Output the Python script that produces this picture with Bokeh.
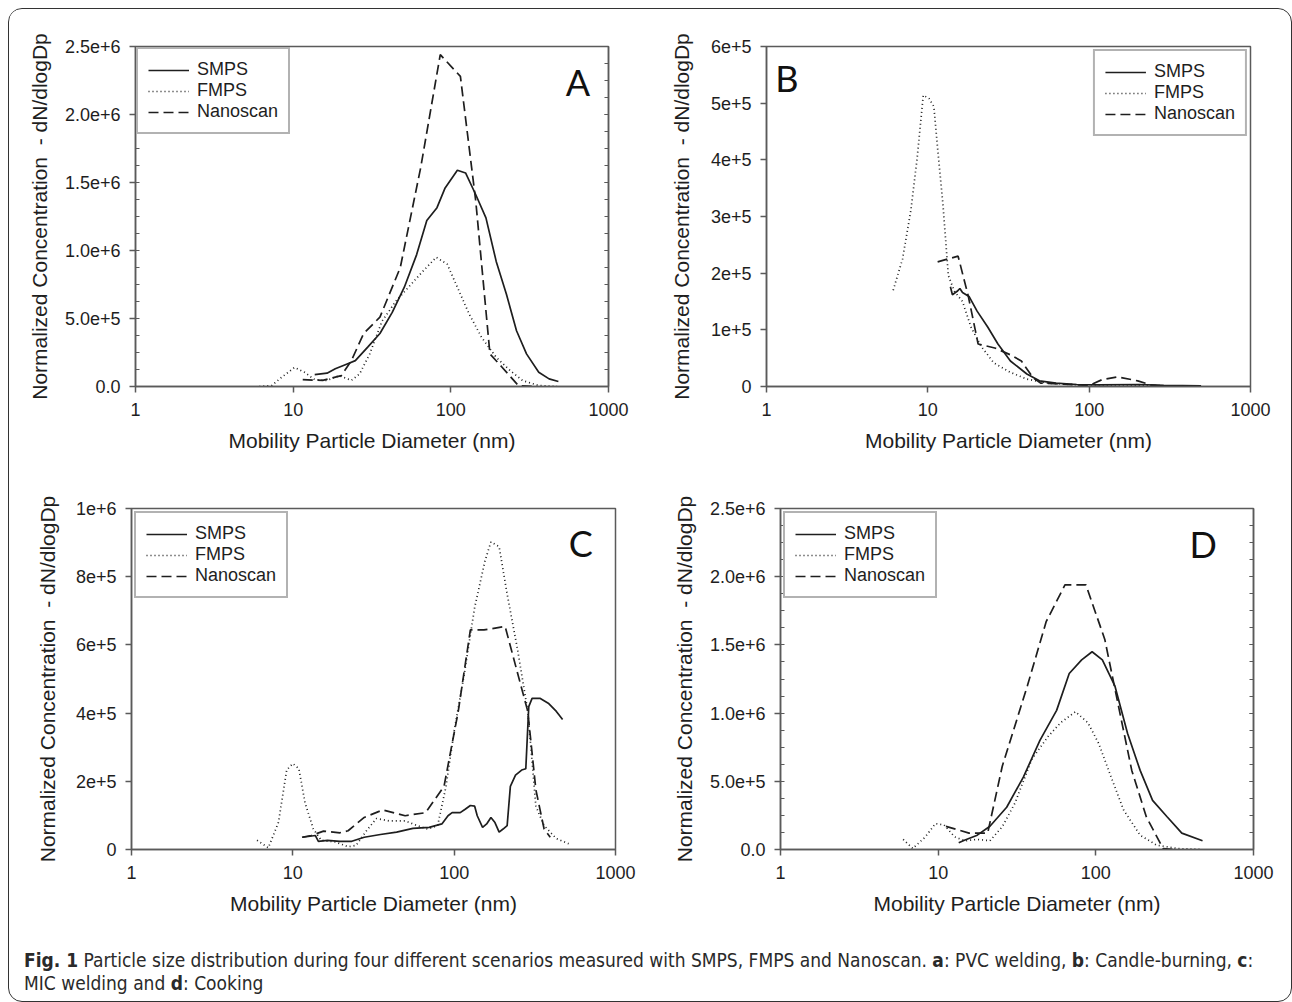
from bokeh.plotting import figure
from bokeh.models import (Legend, LegendItem, FixedTicker, LinearAxis, Label, Div,
                          Range1d, SingleIntervalTicker)
from bokeh.layouts import column, row
from bokeh.embed import file_html
from bokeh.resources import INLINE

# ---------------- data ----------------
X_TICKS = [1, 10, 100, 1000]
X_TICK_LABELS = ["1", "10", "100", "1000"]
X_TITLE = "Mobility Particle Diameter (nm)"
Y_TITLE = "Normalized Concentration\u00a0\u00a0- dN/dlogDp"
SERIES = ["SMPS", "FMPS", "Nanoscan"]
LETTERS = ["A", "B", "C", "D"]

# Panel A (PVC welding)
A_Y_MAX = 2.5e6
A_Y_TICKS = [0, 5e5, 1e6, 1.5e6, 2e6, 2.5e6]
A_Y_LABELS = ["0.0", "5.0e+5", "1.0e+6", "1.5e+6", "2.0e+6", "2.5e+6"]
A_SMPS_D = [13.7, 16.4, 18.5, 22, 24.8, 29.7, 35.5, 42.5, 50.7, 60.7, 70.4, 81.7, 92, 110,
            124, 144, 167, 194, 225, 261, 302, 361, 420, 481]
A_SMPS_V = [0.088e6, 0.098e6, 0.13e6, 0.166e6, 0.19e6, 0.29e6, 0.39e6, 0.545e6, 0.73e6, 0.97e6,
            1.22e6, 1.315e6, 1.46e6, 1.59e6, 1.57e6, 1.41e6, 1.24e6, 0.92e6, 0.68e6, 0.41e6,
            0.24e6, 0.105e6, 0.056e6, 0.037e6]
A_FMPS_D = [6.1, 7.3, 8.5, 10.2, 11.8, 13.7, 16.4, 19.6, 23.4, 26.4, 30.6, 36.6, 45, 53.9, 64.4,
            80.7, 94.8, 110, 131, 157, 194, 238, 285, 361, 472]
A_FMPS_V = [0, 0.007e6, 0.07e6, 0.14e6, 0.105e6, 0.05e6, 0.045e6, 0.08e6, 0.045e6, 0.093e6,
            0.24e6, 0.48e6, 0.63e6, 0.73e6, 0.83e6, 0.95e6, 0.9e6, 0.73e6, 0.53e6, 0.36e6,
            0.215e6, 0.117e6, 0.044e6, 0.007e6, 0]
A_NANO_D = [11.5, 15.4, 20.2, 23.4, 28, 35.5, 47.8, 64.4, 85.7, 115, 144, 177, 212, 268, 340]
A_NANO_V = [0.05e6, 0.045e6, 0.08e6, 0.19e6, 0.39e6, 0.51e6, 0.875e6, 1.61e6, 2.44e6, 2.28e6,
            1.36e6, 0.24e6, 0.14e6, 0.007e6, 0]

# Panel B (Candle-burning)
B_Y_MAX = 6e5
B_Y_TICKS = [0, 1e5, 2e5, 3e5, 4e5, 5e5, 6e5]
B_Y_LABELS = ["0", "1e+5", "2e+5", "3e+5", "4e+5", "5e+5", "6e+5"]
B_SMPS_D = [13.8, 14.2, 15.2, 15.8, 16.4, 18, 20.2, 23.5, 27.2, 32.5, 41.1, 49.2, 62.3, 83.7,
            113, 203, 290, 494]
B_SMPS_V = [1.76e5, 1.62e5, 1.68e5, 1.73e5, 1.66e5, 1.59e5, 1.33e5, 1.05e5, 0.75e5, 0.45e5,
            0.22e5, 0.10e5, 0.06e5, 0.035e5, 0.03e5, 0.035e5, 0.02e5, 0.01e5]
B_FMPS_D = [6.1, 6.97, 7.85, 8.58, 9.37, 10.2, 10.9, 11.5, 12.4, 13.4, 14.6, 16.4, 18.5, 21.5,
            25.6, 32.5, 41.1, 55.3, 83.7, 151, 229, 368, 494]
B_FMPS_V = [1.7e5, 2.25e5, 3.11e5, 4.02e5, 5.14e5, 5.08e5, 4.94e5, 4.2e5, 3.22e5, 1.96e5,
            1.68e5, 1.5e5, 1.05e5, 0.7e5, 0.42e5, 0.25e5, 0.13e5, 0.06e5, 0.03e5, 0.03e5,
            0.02e5, 0.005e5, 0]
B_NANO_D = [11.5, 15.4, 17.8, 20.5, 26, 33, 38, 45, 50, 60, 100, 120, 150, 200, 240, 300, 360]
B_NANO_V = [2.2e5, 2.3e5, 1.6e5, 0.75e5, 0.68e5, 0.55e5, 0.45e5, 0.15e5, 0.06e5, 0.05e5,
            0.02e5, 0.12e5, 0.17e5, 0.1e5, 0.03e5, 0, 0]

# Panel C (MIC welding)
C_Y_MAX = 1e6
C_Y_TICKS = [0, 2e5, 4e5, 6e5, 8e5, 1e6]
C_Y_LABELS = ["0", "2e+5", "4e+5", "6e+5", "8e+5", "1e+6"]
C_SMPS_D = [11.5, 13.8, 14.4, 16.4, 19.6, 23.2, 27.7, 34.9, 44, 55.5, 70, 83.9, 91.6, 97.1,
            109, 117, 126, 134, 139, 150, 159, 169, 179, 190, 201, 213, 223, 240, 262, 278,
            290, 304, 342, 383, 430, 470]
C_SMPS_V = [0.36e5, 0.41e5, 0.24e5, 0.27e5, 0.24e5, 0.24e5, 0.36e5, 0.44e5, 0.51e5, 0.62e5,
            0.65e5, 0.75e5, 0.99e5, 1.08e5, 1.08e5, 1.18e5, 1.29e5, 1.27e5, 0.99e5, 0.65e5,
            0.75e5, 0.94e5, 0.79e5, 0.51e5, 0.6e5, 0.7e5, 1.85e5, 2.18e5, 2.33e5, 2.37e5,
            4.19e5, 4.43e5, 4.43e5, 4.29e5, 4.05e5, 3.81e5]
C_FMPS_D = [6.0, 7.05, 8.15, 9.16, 10, 10.9, 11.9, 13.4, 15, 18.4, 22, 24.7, 28.6, 33, 39.4,
            49.7, 59, 68.4, 79, 89, 100, 116, 134, 155, 169, 190, 213, 247, 286, 321, 361,
            430, 512]
C_FMPS_V = [0.27e5, 0.05e5, 0.8e5, 2.33e5, 2.52e5, 2.37e5, 1.37e5, 0.6e5, 0.27e5, 0.22e5,
            0.08e5, 0.12e5, 0.55e5, 0.91e5, 0.84e5, 0.84e5, 0.7e5, 0.6e5, 0.7e5, 1.85e5,
            3.47e5, 5.2e5, 7.1e5, 8.45e5, 9.02e5, 8.88e5, 7.49e5, 5.87e5, 4.05e5, 1.27e5,
            0.7e5, 0.32e5, 0.17e5]
C_NANO_D = [11.4, 13, 15.5, 19.6, 22, 27.7, 36, 49.7, 66.5, 86.5, 106, 126, 153, 207, 240,
            286, 321, 361, 394]
C_NANO_V = [0.36e5, 0.41e5, 0.54e5, 0.49e5, 0.55e5, 0.94e5, 1.16e5, 0.99e5, 1.08e5, 1.85e5,
            4.05e5, 6.44e5, 6.44e5, 6.54e5, 5.4e5, 4.05e5, 1.75e5, 0.6e5, 0.36e5]

# Panel D (Cooking)
D_Y_MAX = 2.5e6
D_Y_TICKS = [0, 5e5, 1e6, 1.5e6, 2e6, 2.5e6]
D_Y_LABELS = ["0.0", "5.0e+5", "1.0e+6", "1.5e+6", "2.0e+6", "2.5e+6"]
D_SMPS_D = [13.5, 14.8, 17.7, 21.3, 27.2, 34.7, 44.2, 56.4, 67.8, 81.3, 94.7, 110, 132, 159,
            191, 229, 283, 351, 475]
D_SMPS_V = [0.05e6, 0.07e6, 0.105e6, 0.17e6, 0.31e6, 0.53e6, 0.80e6, 1.02e6, 1.29e6, 1.39e6,
            1.45e6, 1.39e6, 1.20e6, 0.85e6, 0.58e6, 0.36e6, 0.24e6, 0.12e6, 0.064e6]
D_FMPS_D = [6.0, 6.9, 8.3, 9.6, 10.9, 12.7, 14.8, 17.7, 21.3, 25.5, 30.7, 39.2, 49.9, 59.9,
            74.2, 89, 104, 125, 150, 191, 243, 330, 475]
D_FMPS_V = [0.074e6, 0.007e6, 0.093e6, 0.19e6, 0.18e6, 0.093e6, 0.064e6, 0.074e6, 0.064e6,
            0.167e6, 0.34e6, 0.66e6, 0.83e6, 0.93e6, 1.01e6, 0.93e6, 0.78e6, 0.53e6, 0.29e6,
            0.105e6, 0.032e6, 0.007e6, 0]
D_NANO_D = [11.2, 15.7, 20.6, 25.5, 36.8, 48.4, 63.7, 86.5, 114, 141, 169, 209, 267, 309]
D_NANO_V = [0.17e6, 0.12e6, 0.12e6, 0.61e6, 1.2e6, 1.67e6, 1.94e6, 1.94e6, 1.54e6, 1.02e6,
            0.58e6, 0.24e6, 0.007e6, 0]

CAPTION_HTML = ("<b>Fig. 1</b> Particle size distribution during four different scenarios "
                "measured with SMPS, FMPS and Nanoscan. <b>a</b>: PVC welding, <b>b</b>: "
                "Candle-burning, <b>c</b>:<br>MIC welding and <b>d</b>: Cooking")

# ---------------- styling ----------------
FONT = "Liberation Sans"
INK = "#1e1e1e"
AXIS_C = "#5a5a5a"
DASHES = ["solid", "1 3", "10 5"]


def make_panel(letter, series, y_max, y_ticks, y_labels, y_interval, n_minor, width, height,
               borders, legend_loc, legend_margin, letter_pos, y_label_standoff, right_ticks):
    left, right, top, bottom = borders
    p = figure(width=width, height=height, x_axis_type="log",
               x_range=Range1d(1, 1000), y_range=Range1d(0, y_max),
               output_backend="svg", toolbar_location=None,
               min_border_left=left, min_border_right=right,
               min_border_top=top, min_border_bottom=bottom)
    p.grid.visible = False
    p.outline_line_color = AXIS_C
    p.outline_line_width = 1.5
    p.background_fill_color = "white"
    p.border_fill_color = "white"

    renderers = []
    for (d, v), dash in zip(series, DASHES):
        r = p.line(d, v, line_color=INK, line_width=1.7, line_dash=dash)
        renderers.append(r)

    xa = p.xaxis[0]
    xa.ticker = FixedTicker(ticks=X_TICKS, minor_ticks=[])
    xa.major_label_overrides = {t: s for t, s in zip(X_TICKS, X_TICK_LABELS)}
    xa.axis_label = X_TITLE
    ya = p.yaxis[0]
    ya.ticker = SingleIntervalTicker(interval=y_interval, num_minor_ticks=n_minor)
    ya.major_label_overrides = {float(t): s for t, s in zip(y_ticks, y_labels)}
    ya.axis_label = Y_TITLE
    for ax in (xa, ya):
        ax.axis_line_color = AXIS_C
        ax.axis_line_width = 1.5
        ax.major_tick_line_color = AXIS_C
        ax.major_tick_line_width = 1.5
        ax.minor_tick_line_color = AXIS_C
        ax.major_tick_out = 6
        ax.major_tick_in = 0
        ax.minor_tick_out = 0
        ax.minor_tick_in = 4
        ax.major_label_text_font = FONT
        ax.major_label_text_font_size = "18px"
        ax.major_label_text_color = INK
        ax.axis_label_text_font = FONT
        ax.axis_label_text_font_size = "21px"
        ax.axis_label_text_font_style = "normal"
        ax.axis_label_text_color = INK
    xa.major_label_standoff = 10
    xa.axis_label_standoff = 10
    ya.major_label_standoff = 9
    ya.axis_label_standoff = y_label_standoff

    if right_ticks:
        ra = LinearAxis(ticker=SingleIntervalTicker(interval=y_interval, num_minor_ticks=n_minor),
                        axis_line_color=AXIS_C, axis_line_width=1.5,
                        major_tick_in=4, major_tick_out=0, minor_tick_in=4, minor_tick_out=0,
                        major_tick_line_color=AXIS_C, minor_tick_line_color=AXIS_C,
                        major_label_standoff=0,
                        major_label_overrides={float(t): "" for t in y_ticks})
        p.add_layout(ra, "right")

    legend = Legend(items=[LegendItem(label=s, renderers=[r]) for s, r in zip(SERIES, renderers)],
                    location=legend_loc, margin=legend_margin, padding=10, spacing=0,
                    label_height=20, glyph_height=20, glyph_width=41, label_standoff=8,
                    label_text_font=FONT, label_text_font_size="18px",
                    label_text_color=INK, border_line_color="#666666",
                    border_line_width=2.5, background_fill_alpha=1.0)
    p.add_layout(legend)

    p.add_layout(Label(x=letter_pos[0], y=letter_pos[1], text=letter, text_align="center",
                       text_baseline="middle", text_font="Lato", text_font_size="36px",
                       text_color="#111111"))
    return p


pA = make_panel(LETTERS[0], [(A_SMPS_D, A_SMPS_V), (A_FMPS_D, A_FMPS_V), (A_NANO_D, A_NANO_V)],
                A_Y_MAX, A_Y_TICKS, A_Y_LABELS, 5e5, 4, 640, 470,
                (126, 41, 37, 93), "top_left", 1, (640, 2.24e6), 11, True)
pB = make_panel(LETTERS[1], [(B_SMPS_D, B_SMPS_V), (B_FMPS_D, B_FMPS_V), (B_NANO_D, B_NANO_V)],
                B_Y_MAX, B_Y_TICKS, B_Y_LABELS, 1e5, 0, 632, 470,
                (117, 31, 37, 85), "top_right", 3, (1.34, 5.45e5), 15, False)
pC = make_panel(LETTERS[2], [(C_SMPS_D, C_SMPS_V), (C_FMPS_D, C_FMPS_V), (C_NANO_D, C_NANO_V)],
                C_Y_MAX, C_Y_TICKS, C_Y_LABELS, 2e5, 0, 640, 456,
                (122, 34, 23, 84), "top_left", 3, (610, 9.0e5), 14, False)
pD = make_panel(LETTERS[3], [(D_SMPS_D, D_SMPS_V), (D_FMPS_D, D_FMPS_V), (D_NANO_D, D_NANO_V)],
                D_Y_MAX, D_Y_TICKS, D_Y_LABELS, 5e5, 4, 632, 456,
                (131, 28, 29, 86), "top_left", 3, (480, 2.24e6), 11, True)

caption = Div(text=CAPTION_HTML, width=1272, height=56,
              styles={"font-family": "'Liberation Sans Narrow', 'DejaVu Sans Condensed', "
                                     "'Liberation Sans', sans-serif",
                      "font-size": "19px", "line-height": "23px", "color": "#2a2a2a",
                      "padding-left": "10px", "padding-top": "9px", "white-space": "nowrap"})

layout = column(row(pA, pB), row(pC, pD), caption,
                styles={"border": "1.5px solid #333333", "border-radius": "14px",
                        "background-color": "white", "overflow": "hidden",
                        "margin": "8px"})

open("out.html", "w").write(file_html(layout, INLINE))
